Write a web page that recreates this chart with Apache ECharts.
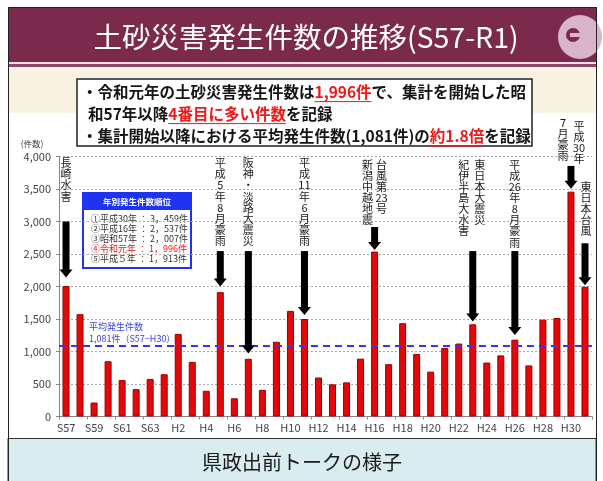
<!DOCTYPE html>
<html>
<head>
<meta charset="utf-8">
<script src="https://cdn.jsdelivr.net/npm/echarts@6/dist/echarts.min.js"></script>
<style>
  html, body { margin: 0; padding: 0; background: #fff; }
  #chart { width: 603px; height: 481px; }
</style>
</head>
<body>
<div id="chart"></div>
<script>
// 年度 (昭和57年〜令和元年)
const categories = [
  'S57','S58','S59','S60','S61','S62','S63',
  'H1','H2','H3','H4','H5','H6','H7','H8','H9','H10',
  'H11','H12','H13','H14','H15','H16','H17','H18','H19','H20',
  'H21','H22','H23','H24','H25','H26','H27','H28','H29','H30',
  'R1'
];

// 土砂災害発生件数
const counts = [
  2007, 1574, 215, 850, 560, 420, 578,
  650, 1270, 840, 395, 1913, 280, 888, 410, 1150, 1625,
  1500, 600, 495, 525, 890, 2537, 805, 1435, 960, 690,
  1055, 1122, 1418, 830, 940, 1182, 786, 1490, 1516, 3459,
  1996
];

// 平均発生件数 (S57−H30)
const averageCount = 1081;

// 縦軸の目盛
const yMin = 0, yMax = 4000, yStep = 500;

// 主な災害 (縦書き注記)
const eventCats  = ['S57', 'H5', 'H7', 'H11', 'H16', 'H16', 'H23', 'H23', 'H26', 'H30', 'H30', 'R1'];
const eventTexts = [
  ['長','崎','水','害'],
  ['平','成','5','年','8','月','豪','雨'],
  ['阪','神','・','淡','路','大','震','災'],
  ['平','成','11','年','6','月','豪','雨'],
  ['新','潟','中','越','地','震'],
  ['台','風','第','23','号'],
  ['紀','伊','半','島','大','水','害'],
  ['東','日','本','大','震','災'],
  ['平','成','26','年','8','月','豪','雨'],
  ['7','月','豪','雨'],
  ['平','成','30','年'],
  ['東','日','本','台','風']
];
// 注記の上端 (件数)
const eventTops = [3985, 3985, 3985, 3985, 3960, 3960, 3960, 3960, 3960, 4610, 4560, 3620];

// 矢印: 対象年度, 始点 (件数), 先端 (件数)
const arrowCats  = ['S57', 'H5', 'H7', 'H11', 'H16', 'H23', 'H26', 'H30', 'R1'];
const arrowFrom  = [3000, 2545, 2545, 2545, 2915, 2545, 2545, 3855, 2665];
const arrowTo    = [2140, 2000, 970, 1560, 2560, 1460, 1255, 3505, 2020];

// 年別発生件数順位
const rankTitle = '年別発生件数順位';
const rankRows = [
  '①平成30年 ： 3，459件',
  '②平成16年 ： 2，537件',
  '③昭和57年 ： 2，007件',
  '④令和元年 ： 1，996件',
  '⑤平成５年 ： 1，913件'
];
const rankHighlight = 3;

const FONT = '"Noto Sans CJK JP", "Noto Sans", sans-serif';

// layout of the vertical captions (horizontal shift from the bar, px)
const eventShift = [0, 0, 0, 0, -7, 7, -9, 7, 0, -8, 8, 1];

const chart = echarts.init(document.getElementById('chart'), null, { renderer: 'canvas', width: 603, height: 481 });

// ---- summary text box with red underlined phrases ----
const measureCtx = document.createElement('canvas').getContext('2d');
function richLine(segs, x, y, size) {
  const els = [];
  let cx = x;
  measureCtx.font = `bold ${size}px ${FONT}`;
  segs.forEach(([t, red]) => {
    const w = measureCtx.measureText(t).width;
    els.push({
      type: 'text', x: cx, y: y,
      style: { text: t, fontSize: size, fontWeight: 'bold', fontFamily: FONT,
               fill: red ? '#f01818' : '#151515', verticalAlign: 'middle', align: 'left' }
    });
    if (red) {
      els.push({
        type: 'line',
        shape: { x1: cx, y1: y + size * 0.62, x2: cx + w, y2: y + size * 0.62 },
        style: { stroke: '#f01818', lineWidth: 1 }
      });
    }
    cx += w;
  });
  return els;
}

const TS = 15.5;
const summary = [].concat(
  richLine([['・令和元年の土砂災害発生件数は', false], ['1,996件', true], ['で、集計を開始した昭', false]], 82, 92, TS),
  richLine([['和57年以降', false], ['4番目に多い件数', true], ['を記録', false]], 88, 114, TS),
  richLine([['・集計開始以降における平均発生件数(1,081件)の', false], ['約1.8倍', true], ['を記録', false]], 82, 136.5, TS)
);

// ---- ranking box ----
const rankBox = {
  type: 'group', z: 20,
  children: [
    { type: 'rect', shape: { x: 83, y: 193, width: 108, height: 75 },
      style: { fill: '#fff', stroke: '#1e34f0', lineWidth: 2 } },
    { type: 'rect', shape: { x: 83, y: 193, width: 108, height: 17 },
      style: { fill: '#1e34f0' } },
    { type: 'text', x: 137, y: 201.5,
      style: { text: rankTitle, fill: '#fff', fontSize: 8.5, fontWeight: 'bold', fontFamily: FONT,
               align: 'center', verticalAlign: 'middle' } }
  ].concat(rankRows.map((r, i) => ({
    type: 'text', x: 91, y: 219 + i * 10,
    style: { text: r, fill: i === rankHighlight ? '#ee1111' : '#333', fontSize: 9, fontFamily: FONT,
             align: 'left', verticalAlign: 'middle' }
  })))
};

// ---- slide frame, banner and caption ----
const frame = [
  { type: 'rect', z: -10, shape: { x: 8, y: 7, width: 588, height: 56 }, style: { fill: '#7b2a4b' } },
  { type: 'rect', z: -10, shape: { x: 8, y: 62, width: 588, height: 2 }, style: { fill: '#f3dfe6' } },
  { type: 'rect', z: -10, shape: { x: 8, y: 64, width: 588, height: 3 }, style: { fill: '#8d4666' } },
  { type: 'rect', z: -10, shape: { x: 8, y: 67, width: 588, height: 46 }, style: { fill: '#f8f3e3' } },
  { type: 'circle', z: -9, shape: { cx: 580, cy: 37, r: 22 }, style: { fill: '#d8b5c8' } },
  { type: 'circle', z: -8, shape: { cx: 573, cy: 35, r: 7 }, style: { fill: '#7b2a4b' } },
  { type: 'rect', z: -8, shape: { x: 570, y: 33, width: 14, height: 4 }, style: { fill: '#d8b5c8' } },
  { type: 'text', z: -7, x: 306, y: 37,
    style: { text: '土砂災害発生件数の推移(S57-R1)', fill: '#fff', fontSize: 28.5, fontFamily: FONT,
             align: 'center', verticalAlign: 'middle' } },
  { type: 'rect', z: 30, shape: { x: 77, y: 79, width: 455, height: 67 },
    style: { fill: '#fff', stroke: '#222', lineWidth: 1.5 } },
  { type: 'rect', z: -10, shape: { x: 8, y: 438.5, width: 588, height: 44 },
    style: { fill: '#d9edf0', stroke: '#333', lineWidth: 1 } },
  { type: 'text', x: 302, y: 462,
    style: { text: '県政出前トークの様子', fill: '#1a1a1a', fontSize: 20, fontFamily: FONT,
             align: 'center', verticalAlign: 'middle' } },
  { type: 'line', z: 40, shape: { x1: 8.5, y1: 7, x2: 8.5, y2: 481 }, style: { stroke: '#222', lineWidth: 1 } },
  { type: 'line', z: 40, shape: { x1: 596.5, y1: 7, x2: 596.5, y2: 481 }, style: { stroke: '#222', lineWidth: 1 } },
  { type: 'line', z: 40, shape: { x1: 8, y1: 7.5, x2: 597, y2: 7.5 }, style: { stroke: '#222', lineWidth: 1 } },
  { type: 'text', x: 32, y: 144,
    style: { text: '(件数)', fill: '#444', fontSize: 8.5, fontFamily: FONT, align: 'center', verticalAlign: 'middle' } }
];

summary.forEach(el => { el.z = 31; });

const labelData = eventCats.map((c, i) => [categories.indexOf(c), eventTops[i]]);
const arrowData = arrowCats.map((c, i) => [categories.indexOf(c), arrowFrom[i], arrowTo[i]]);

chart.setOption({
  animation: false,
  backgroundColor: '#fff',
  textStyle: { fontFamily: FONT },
  grid: { left: 59, right: 11, top: 156.5, bottom: 64.5 },
  xAxis: {
    type: 'category',
    data: categories,
    axisLine: { lineStyle: { color: '#888' } },
    axisTick: { show: true, length: 3, lineStyle: { color: '#888' } },
    axisLabel: { interval: 1, fontSize: 11, color: '#444', margin: 6 }
  },
  yAxis: {
    type: 'value',
    min: yMin, max: yMax, interval: yStep,
    axisLine: { show: true, lineStyle: { color: '#888' } },
    axisTick: { show: true, length: 3, lineStyle: { color: '#888' } },
    axisLabel: { fontSize: 11, color: '#444', margin: 8,
                 formatter: v => v.toLocaleString('en-US') },
    splitLine: { lineStyle: { color: '#aaa', type: [2, 2] } }
  },
  series: [
    {
      type: 'bar',
      data: counts,
      barWidth: 7,
      itemStyle: { color: '#e40808', borderColor: '#9a0000', borderWidth: 1 },
      markLine: {
        silent: true,
        symbol: 'none',
        data: [{ yAxis: averageCount }],
        lineStyle: { color: '#3636ee', type: [7, 5], width: 2 },
        label: {
          show: true,
          position: 'insideStartTop',
          formatter: '平均発生件数\n' + averageCount.toLocaleString('en-US') + '件（S57−H30）',
          color: '#3a46d6', fontSize: 9, lineHeight: 12, align: 'left',
          padding: [0, 0, 0, 28], distance: 2, fontFamily: FONT
        },
        z: 6
      }
    },
    {
      type: 'custom',
      z: 8,
      data: arrowData,
      encode: { x: 0, y: [1, 2] },
      renderItem: (params, api) => {
        const idx = api.value(0);
        const a = api.coord([idx, api.value(1)]);
        const b = api.coord([idx, api.value(2)]);
        const x = a[0], hw = 3.5, headW = 6.5, headH = 8;
        return {
          type: 'group',
          children: [
            { type: 'rect', shape: { x: x - hw, y: a[1], width: hw * 2, height: b[1] - headH - a[1] + 0.5 },
              style: { fill: '#000' } },
            { type: 'polygon', shape: { points: [[x - headW, b[1] - headH], [x + headW, b[1] - headH], [x, b[1]]] },
              style: { fill: '#000' } }
          ]
        };
      }
    },
    {
      type: 'custom',
      z: 9,
      data: labelData,
      encode: { x: 0, y: 1 },
      renderItem: (params, api) => {
        const i = params.dataIndex;
        const p = api.coord([api.value(0), api.value(1)]);
        return {
          type: 'text',
          x: p[0] + eventShift[i],
          y: p[1],
          style: {
            text: eventTexts[i].join('\n'),
            fill: '#1a1a1a', fontSize: 11, fontFamily: FONT, lineHeight: 11.1,
            align: 'center', verticalAlign: 'top'
          }
        };
      }
    }
  ],
  graphic: frame.concat(summary, [rankBox])
});
</script>
</body>
</html>
